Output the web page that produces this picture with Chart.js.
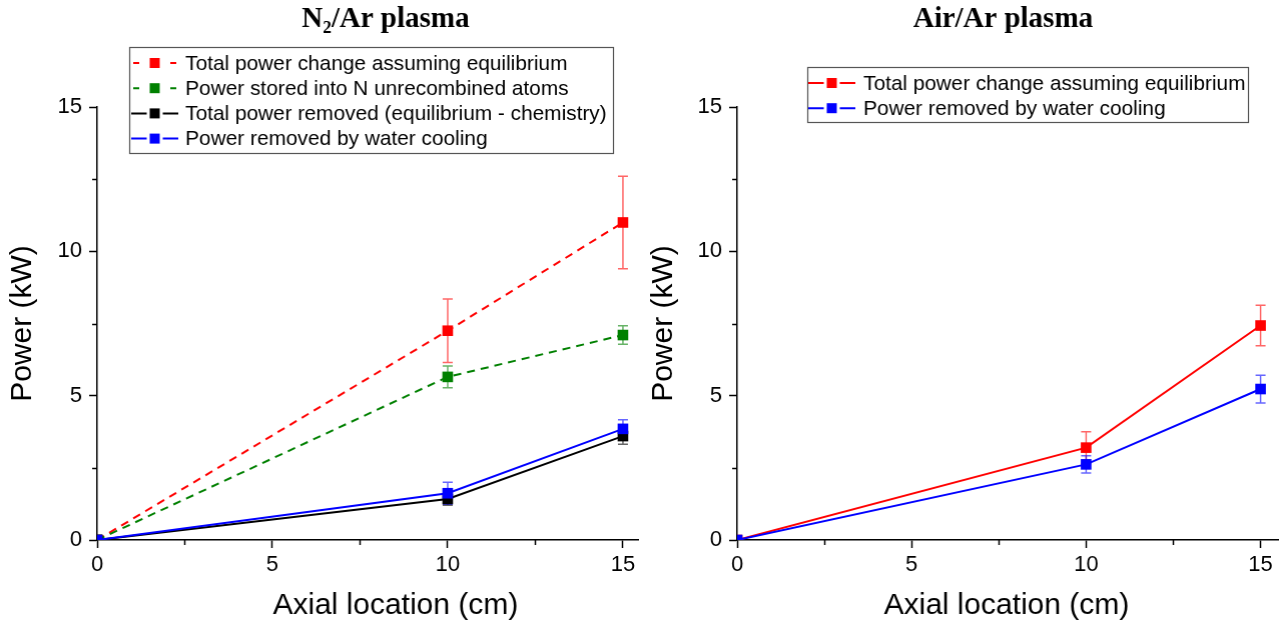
<!DOCTYPE html>
<html><head><meta charset="utf-8">
<script src="https://cdn.jsdelivr.net/npm/chart.js@4/dist/chart.umd.min.js"></script>
<style>
html,body{margin:0;padding:0;background:#fff;overflow:hidden}
#w1{position:absolute;left:0;top:0;width:644.5px;height:624px}
#w2{position:absolute;left:641px;top:0;width:643.5px;height:624px}
</style></head><body>
<div id="w1"><canvas id="c1"></canvas></div>
<div id="w2"><canvas id="c2"></canvas></div>
<script>
// ---- data ----
const axialPositions = [0, 10, 15];
const tickValues = [0, 2.5, 5, 7.5, 10, 12.5, 15];

const n2Title = 'N₂/Ar plasma';
const n2Labels = [
  'Total power change assuming equilibrium',
  'Power stored into N unrecombined atoms',
  'Total power removed (equilibrium - chemistry)',
  'Power removed by water cooling'
];
const n2TotalEq     = [0, 7.25, 11.0];
const n2TotalEqErr  = [0, 1.1, 1.6];
const n2StoredN     = [0, 5.65, 7.1];
const n2StoredNErr  = [0, 0.38, 0.32];
const n2Removed     = [0, 1.42, 3.6];
const n2RemovedErr  = [0, 0.22, 0.28];
const n2Cooling     = [0, 1.62, 3.85];
const n2CoolingErr  = [0, 0.38, 0.32];

const airTitle = 'Air/Ar plasma';
const airLabels = [
  'Total power change assuming equilibrium',
  'Power removed by water cooling'
];
const airTotalEq    = [0, 3.2, 7.43];
const airTotalEqErr = [0, 0.55, 0.7];
const airCooling    = [0, 2.62, 5.23];
const airCoolingErr = [0, 0.3, 0.48];

const xAxisTitle = 'Axial location (cm)';
const yAxisTitle = 'Power (kW)';

// ---- helpers ----
const SANS = '"Liberation Sans", Arial, sans-serif';
function pts(ys){ return axialPositions.map((x,i)=>({x:x, y:ys[i]})); }
function ds(label, ys, errs, color, dashed, order){
  return {label, data: pts(ys), errs, borderColor: color, backgroundColor: color,
    borderWidth: 2, borderDash: dashed ? [8,6] : [], tension: 0,
    pointStyle: 'rect', pointRadius: 7.5, pointHoverRadius: 7.5, pointBorderWidth: 0,
    pointBackgroundColor: color, dashed, order};
}
function hexA(c, a){
  const m = {'#ff0000':[255,0,0],'#008000':[0,128,0],'#000000':[0,0,0],'#0000ff':[0,0,255]}[c];
  return `rgba(${m[0]},${m[1]},${m[2]},${a})`;
}

const errorBars = {
  id: 'errorBars',
  beforeDatasetsDraw(chart){
    const ctx = chart.ctx, xs = chart.scales.x, ys = chart.scales.y;
    chart.data.datasets.forEach(d=>{
      if(!d.errs) return;
      ctx.save();
      ctx.strokeStyle = hexA(d.borderColor, 0.6);
      ctx.lineWidth = 1.5;
      d.data.forEach((p,i)=>{
        const e = d.errs[i]; if(!e) return;
        const px = xs.getPixelForValue(p.x);
        const y1 = ys.getPixelForValue(p.y + e), y2 = ys.getPixelForValue(p.y - e);
        ctx.beginPath();
        ctx.moveTo(px, y1); ctx.lineTo(px, y2);
        ctx.moveTo(px-5, y1); ctx.lineTo(px+5, y1);
        ctx.moveTo(px-5, y2); ctx.lineTo(px+5, y2);
        ctx.stroke();
      });
      ctx.restore();
    });
  }
};

const extras = {
  id: 'extras',
  afterDraw(chart, args, opts){
    const ctx = chart.ctx, ca = chart.chartArea;
    // minor ticks
    ctx.save();
    ctx.strokeStyle = '#000'; ctx.lineWidth = 1.5;
    const xs = chart.scales.x, ys = chart.scales.y;
    tickValues.forEach(v=>{
      if(v % 5 === 0) return;
      const px = Math.round(xs.getPixelForValue(v)) + 0.5;
      ctx.beginPath(); ctx.moveTo(px, ca.bottom); ctx.lineTo(px, ca.bottom + 5); ctx.stroke();
      const py = Math.round(ys.getPixelForValue(v)) + 0.5;
      ctx.beginPath(); ctx.moveTo(ca.left, py); ctx.lineTo(ca.left - 5, py); ctx.stroke();
    });
    ctx.restore();
    // chart title
    ctx.save();
    ctx.fillStyle = '#000';
    ctx.font = 'bold 29px "Liberation Serif", "Times New Roman", serif';
    ctx.textAlign = 'center'; ctx.textBaseline = 'alphabetic';
    ctx.fillText(opts.title, opts.titleX, opts.titleY);
    // x-axis title
    ctx.font = '30px ' + SANS;
    ctx.textBaseline = 'middle';
    ctx.fillText(xAxisTitle, opts.xTitleX, 606);
    ctx.restore();
    // legend
    const L = opts.legend;
    ctx.save();
    ctx.fillStyle = '#fff';
    ctx.fillRect(L.x, L.y, L.w, L.h);
    ctx.strokeStyle = '#555'; ctx.lineWidth = 1.2;
    ctx.strokeRect(L.x + 0.5, L.y + 0.5, L.w, L.h);
    ctx.font = '20.8px ' + SANS;
    ctx.textBaseline = 'middle'; ctx.textAlign = 'left';
    chart.data.datasets.forEach((d, i)=>{
      const ry = L.row0 + i * L.rowH;
      const sx = L.sx, sw = L.sw, mx = sx + sw/2;
      ctx.strokeStyle = d.borderColor; ctx.lineWidth = 2;
      ctx.beginPath();
      if(d.dashed){
        ctx.moveTo(sx + 2, ry); ctx.lineTo(sx + 8, ry);
        ctx.moveTo(sx + sw - 8, ry); ctx.lineTo(sx + sw - 2, ry);
      } else {
        ctx.moveTo(sx, ry); ctx.lineTo(sx + sw, ry);
      }
      ctx.stroke();
      ctx.fillStyle = '#fff';
      ctx.fillRect(mx - 8, ry - 6, 16, 12);
      ctx.fillStyle = d.borderColor;
      ctx.fillRect(mx - 5, ry - 5, 10, 10);
      ctx.fillStyle = '#000';
      ctx.fillText(d.label, L.tx, ry + 1);
    });
    ctx.restore();
  }
};

function axis(isX, yWidth, xMax){
  return {
    type: 'linear', min: 0, max: isX ? xMax : 15,
    afterBuildTicks(s){ s.ticks = tickValues.map(v=>({value:v})); },
    afterFit(s){
      if(isX){ s.height = 84; s.paddingLeft = 0; s.paddingRight = 0; }
      else { s.width = yWidth; s.paddingTop = 0; s.paddingBottom = 0; }
    },
    ticks: {
      autoSkip: false, maxRotation: 0, color: '#000',
      padding: isX ? 4 : 7,
      font: {family: SANS, size: 22},
      callback: v => (v % 5 === 0 ? String(v) : '')
    },
    grid: {
      display: true, drawOnChartArea: false, drawTicks: true, tickLength: 8,
      tickWidth: 1.5,
      tickColor: c => (c.tick && c.tick.value % 5 === 0 ? '#000' : 'rgba(0,0,0,0)')
    },
    border: {display: true, color: '#000', width: 1.5},
    title: {
      display: !isX, text: yAxisTitle, color: '#000',
      font: {family: SANS, size: 30, lineHeight: 1},
      padding: {top: 8, bottom: 0}
    }
  };
}

function makeChart(id, datasets, yWidth, padRight, xMax, extraOpts){
  return new Chart(document.getElementById(id), {
    type: 'line',
    data: {datasets},
    options: {
      responsive: true, maintainAspectRatio: false, animation: false,
      devicePixelRatio: 1,
      layout: {padding: {left: 0, right: padRight, top: 107, bottom: 0}},
      plugins: {legend: {display: false}, tooltip: {enabled: false}, extras: extraOpts},
      scales: {x: axis(true, 0, xMax), y: axis(false, yWidth)}
    },
    plugins: [errorBars, extras]
  });
}

makeChart('c1', [
  ds(n2Labels[0], n2TotalEq, n2TotalEqErr, '#ff0000', true, 3),
  ds(n2Labels[1], n2StoredN, n2StoredNErr, '#008000', true, 2),
  ds(n2Labels[2], n2Removed, n2RemovedErr, '#000000', false, 1),
  ds(n2Labels[3], n2Cooling, n2CoolingErr, '#0000ff', false, 0)
], 97, 4, 15.43, {
  title: n2Title, titleX: 385, titleY: 27, xTitleX: 395,
  legend: {x: 129, y: 47, w: 483, h: 106, row0: 63, rowH: 25.2, sx: 131, sw: 47, tx: 185}
});

makeChart('c2', [
  ds(airLabels[0], airTotalEq, airTotalEqErr, '#ff0000', false, 1),
  ds(airLabels[1], airCooling, airCoolingErr, '#0000ff', false, 0)
], 96, 6, 15.5, {
  title: airTitle, titleX: 361.5, titleY: 27, xTitleX: 365,
  legend: {x: 166, y: 67, w: 440, h: 55, row0: 83, rowH: 25.2, sx: 167, sw: 47, tx: 222}
});
</script>
</body></html>
